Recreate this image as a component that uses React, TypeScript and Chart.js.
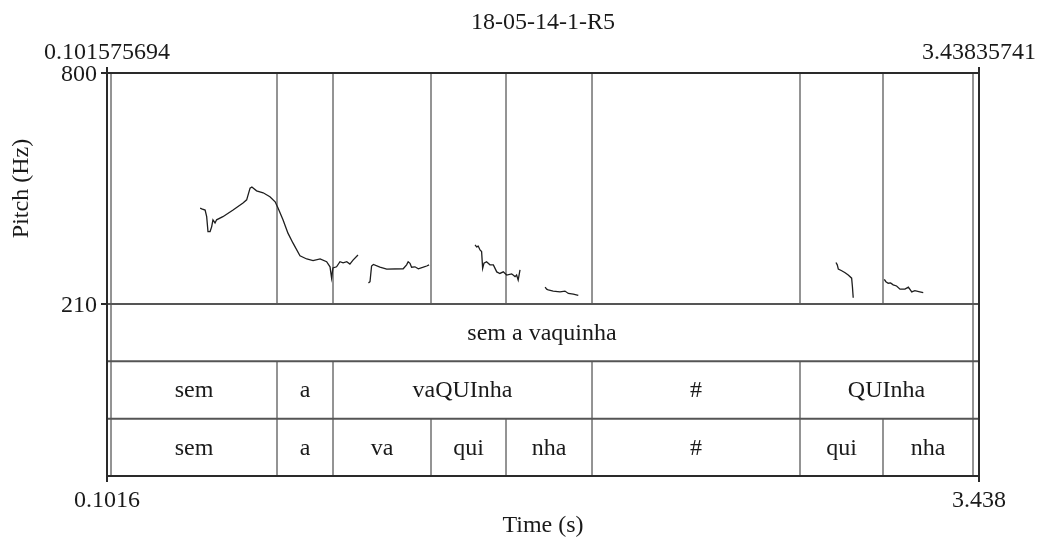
import React, { useEffect, useRef } from 'react';
import { Chart, registerables } from 'chart.js';

Chart.register(...registerables);

const FONT = "'Liberation Serif', 'Times New Roman', serif";
const TEXT_COLOR = '#1a1a1a';

const TITLE = '18-05-14-1-R5';
const X_MIN = 0.101575694;
const X_MAX = 3.43835741;
const TOP_TICK_LABELS = ['0.101575694', '3.43835741'];
const BOTTOM_TICK_LABELS = ['0.1016', '3.438'];
const X_TITLE = 'Time (s)';
const Y_TITLE = 'Pitch (Hz)';
const PITCH_MIN = 210;
const PITCH_MAX = 800;
const PITCH_TICKS = [210, 800];

// pitch contour segments (time in s, F0 in Hz)
const seg1T = [0.458, 0.464, 0.477, 0.483, 0.488, 0.496, 0.502, 0.507, 0.515, 0.521, 0.545, 0.584, 0.622, 0.636, 0.649, 0.656, 0.674, 0.699, 0.725, 0.745, 0.756, 0.775, 0.794, 0.813, 0.840, 0.866, 0.890, 0.917, 0.942, 0.955, 0.961, 0.966, 0.980, 0.993, 1.005, 1.019, 1.031, 1.043, 1.062];
const seg1Hz = [455, 453, 450, 433, 395, 395, 407, 425, 417, 425, 433, 450, 468, 476, 506, 509, 499, 494, 484, 471, 455, 425, 391, 366, 333, 325, 321, 325, 318, 305, 276, 302, 305, 318, 315, 318, 312, 322, 335];
const seg2T = [1.102, 1.108, 1.114, 1.121, 1.146, 1.172, 1.235, 1.248, 1.254, 1.261, 1.267, 1.280, 1.293, 1.312, 1.325, 1.334];
const seg2Hz = [264, 267, 307, 311, 304, 299, 300, 310, 318, 314, 304, 305, 300, 304, 307, 310];
const seg3T = [1.510, 1.516, 1.522, 1.529, 1.535, 1.539, 1.544, 1.554, 1.567, 1.580, 1.593, 1.605, 1.618, 1.631, 1.650, 1.663, 1.669, 1.675, 1.682];
const seg3Hz = [361, 356, 358, 348, 344, 301, 314, 318, 310, 310, 292, 288, 292, 284, 287, 280, 284, 271, 297];
const seg4T = [1.778, 1.784, 1.790, 1.809, 1.835, 1.854, 1.867, 1.886, 1.905];
const seg4Hz = [253, 248, 246, 243, 241, 243, 237, 235, 232];
const seg5T = [2.891, 2.896, 2.900, 2.913, 2.926, 2.938, 2.951, 2.954, 2.957];
const seg5Hz = [316, 310, 299, 295, 290, 284, 276, 254, 226];
const seg6T = [3.076, 3.082, 3.091, 3.100, 3.110, 3.123, 3.136, 3.155, 3.168, 3.181, 3.193, 3.212, 3.225];
const seg6Hz = [273, 267, 263, 264, 259, 256, 248, 248, 253, 241, 244, 241, 239];

const SEGMENTS = [
  [seg1T, seg1Hz],
  [seg2T, seg2Hz],
  [seg3T, seg3Hz],
  [seg4T, seg4Hz],
  [seg5T, seg5Hz],
  [seg6T, seg6Hz],
];

// TextGrid tiers
const tier1Bounds = [0.1169, 3.4154];
const tier1Labels = ['sem a vaquinha'];
const tier2Bounds = [0.1169, 0.7521, 0.9664, 1.9575, 2.7534, 3.4154];
const tier2Labels = ['sem', 'a', 'vaQUInha', '#', 'QUInha'];
const tier3Bounds = [0.1169, 0.7521, 0.9664, 1.3414, 1.6284, 1.9575, 2.7534, 3.0710, 3.4154];
const tier3Labels = ['sem', 'a', 'va', 'qui', 'nha', '#', 'qui', 'nha'];

const TIERS = [
  { bounds: tier1Bounds, labels: tier1Labels },
  { bounds: tier2Bounds, labels: tier2Labels },
  { bounds: tier3Bounds, labels: tier3Labels },
];

// ratio of the tier band height to the pitch panel height
const TIER_SHARE = 172 / 231;
const Y_MIN = PITCH_MIN - (PITCH_MAX - PITCH_MIN) * TIER_SHARE;

const praatPlugin = {
  id: 'praatTiers',
  beforeDatasetsDraw(chart: any) {
    const { ctx, chartArea: a, scales } = chart;
    const xs = scales.x;
    const ys = scales.y;
    const pb = ys.getPixelForValue(PITCH_MIN);
    const rowH = (a.bottom - pb) / TIERS.length;
    const line = (x1: number, y1: number, x2: number, y2: number) => {
      ctx.beginPath();
      ctx.moveTo(x1, y1);
      ctx.lineTo(x2, y2);
      ctx.stroke();
    };
    ctx.save();
    ctx.strokeStyle = '#707070';
    ctx.lineWidth = 1.5;
    // boundaries through pitch panel
    for (const t of TIERS[TIERS.length - 1].bounds) {
      const px = xs.getPixelForValue(t);
      line(px, a.top, px, pb);
    }
    ctx.font = `24px ${FONT}`;
    ctx.fillStyle = TEXT_COLOR;
    ctx.textAlign = 'center';
    ctx.textBaseline = 'middle';
    TIERS.forEach((tier, r) => {
      const top = pb + r * rowH;
      for (const t of tier.bounds) {
        const px = xs.getPixelForValue(t);
        line(px, top, px, top + rowH);
      }
      tier.labels.forEach((lab, i) => {
        const x0 = xs.getPixelForValue(tier.bounds[i]);
        const x1 = xs.getPixelForValue(tier.bounds[i + 1]);
        ctx.fillText(lab, (x0 + x1) / 2, top + rowH / 2 + 1);
      });
    });
    ctx.strokeStyle = '#555';
    ctx.lineWidth = 2;
    for (let r = 0; r < TIERS.length; r++) {
      const yy = pb + r * rowH;
      line(a.left, yy, a.right, yy);
    }
    ctx.restore();
  },
  afterDraw(chart: any) {
    const { ctx, chartArea: a, scales } = chart;
    const pb = scales.y.getPixelForValue(PITCH_MIN);
    ctx.save();
    ctx.strokeStyle = '#2a2a2a';
    ctx.lineWidth = 2;
    ctx.strokeRect(a.left, a.top, a.right - a.left, a.bottom - a.top);
    ctx.font = `24px ${FONT}`;
    ctx.fillStyle = TEXT_COLOR;
    ctx.textAlign = 'center';
    ctx.textBaseline = 'middle';
    ctx.translate(22, (a.top + pb) / 2);
    ctx.rotate(-Math.PI / 2);
    ctx.fillText(Y_TITLE, 0, 0);
    ctx.restore();
  },
};

export default function App() {
  const ref = useRef<HTMLCanvasElement | null>(null);
  useEffect(() => {
    if (!ref.current) return;
    const tickFont = { family: FONT, size: 24 };
    const chart = new Chart(ref.current, {
      type: 'line',
      data: {
        datasets: SEGMENTS.map(([ts, hz]) => ({
          data: ts.map((t, i) => ({ x: t, y: hz[i] })),
          borderColor: '#1e1e1e',
          borderWidth: 1.3,
          pointRadius: 0,
          fill: false,
          tension: 0,
          xAxisID: 'x',
          yAxisID: 'y',
        })),
      },
      options: {
        animation: false,
        responsive: false,
        events: [],
        layout: { padding: { left: 0, right: 60, top: 0, bottom: 0 } },
        plugins: {
          legend: { display: false },
          tooltip: { enabled: false },
          title: {
            display: true,
            fullSize: false,
            text: TITLE,
            color: TEXT_COLOR,
            font: { family: FONT, size: 24, weight: 'normal' },
            padding: { top: 8, bottom: 0 },
          },
        },
        scales: {
          x: {
            type: 'linear',
            position: 'bottom',
            min: X_MIN,
            max: X_MAX,
            afterBuildTicks: (s: any) => { s.ticks = [{ value: X_MIN }, { value: X_MAX }]; },
            afterFit: (s: any) => { s.height = 66; },
            ticks: {
              autoSkip: false,
              maxRotation: 0,
              padding: 4,
              color: TEXT_COLOR,
              font: tickFont,
              callback: (_v: any, i: number) => BOTTOM_TICK_LABELS[i],
            },
            grid: { display: true, drawOnChartArea: false, drawTicks: true, tickLength: 6, color: '#2a2a2a', lineWidth: 2 },
            border: { display: false },
            title: { display: true, text: X_TITLE, color: TEXT_COLOR, font: tickFont, padding: { top: 0, bottom: 2 } },
          },
          x2: {
            type: 'linear',
            axis: 'x',
            position: 'top',
            min: X_MIN,
            max: X_MAX,
            afterBuildTicks: (s: any) => { s.ticks = [{ value: X_MIN }, { value: X_MAX }]; },
            afterFit: (s: any) => { s.height = 73 - 36.8; },
            ticks: {
              autoSkip: false,
              maxRotation: 0,
              padding: 0,
              color: TEXT_COLOR,
              font: tickFont,
              callback: (_v: any, i: number) => TOP_TICK_LABELS[i],
            },
            grid: { display: true, drawOnChartArea: false, drawTicks: true, tickLength: 6, color: '#2a2a2a', lineWidth: 2 },
            border: { display: false },
          },
          y: {
            type: 'linear',
            position: 'left',
            min: Y_MIN,
            max: PITCH_MAX,
            afterBuildTicks: (s: any) => { s.ticks = PITCH_TICKS.map((v) => ({ value: v })); },
            afterFit: (s: any) => { s.width = 107; },
            ticks: {
              autoSkip: false,
              padding: 4,
              labelOffset: 2,
              color: TEXT_COLOR,
              font: tickFont,
              callback: (v: any) => String(v),
            },
            grid: { display: true, drawOnChartArea: false, drawTicks: true, tickLength: 6, color: '#2a2a2a', lineWidth: 2 },
            border: { display: false },
          },
        },
      } as any,
      plugins: [praatPlugin],
    });
    return () => chart.destroy();
  }, []);
  return (
    <div style={{ position: 'absolute', left: 0, top: 0, width: 1039, height: 542, background: '#fff' }}>
      <canvas ref={ref} width={1039} height={542} style={{ display: 'block' }} />
    </div>
  );
}
